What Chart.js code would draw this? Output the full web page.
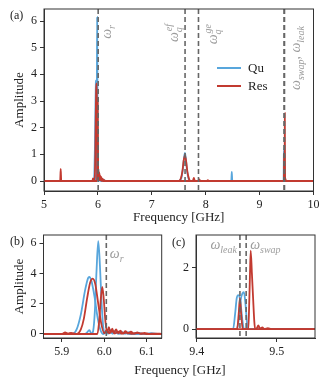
<!DOCTYPE html>
<html>
<head>
<meta charset="utf-8">
<script src="https://cdn.jsdelivr.net/npm/chart.js@4.4.0/dist/chart.umd.min.js"></script>
<style>
  body { margin: 0; background: #fff; width: 330px; height: 386px; position: relative; overflow: hidden; font-family: "Liberation Serif", serif; color: #222; }
  .box { position: absolute; }
  .tag { position: absolute; font-size: 12px; line-height: 14px; }
  .xlabel { position: absolute; left: 80px; width: 200px; top: 362px; text-align: center; font-size: 13px; line-height: 16px; }
</style>
</head>
<body>
<div class="box" style="left:0;top:0;width:330px;height:225px"><canvas id="chartA"></canvas></div>
<div class="box" style="left:0;top:225px;width:170px;height:140px"><canvas id="chartB"></canvas></div>
<div class="box" style="left:170px;top:225px;width:160px;height:140px"><canvas id="chartC"></canvas></div>
<div class="tag" style="left:10px;top:8px">(a)</div>
<div class="tag" style="left:10px;top:234px">(b)</div>
<div class="tag" style="left:172px;top:235px">(c)</div>
<div class="xlabel">Frequency [GHz]</div>
<script>
// spectra (two qubit traces, two resonator traces)
const quFreq1 = [5.00, 5.925, 5.935, 5.945, 5.955, 5.962, 5.965, 5.970, 5.977, 5.985, 5.992, 5.998,
  6.004, 6.009, 6.014, 6.020, 6.027, 6.035, 6.045, 6.060,
  7.50, 7.55, 7.58, 7.60, 7.615, 7.63, 7.65, 7.68, 7.72,
  9.4455, 9.448, 9.450, 9.452, 9.4545, 9.457, 9.459, 10.0];
const quAmp1 = [0, 0, 0.3, 1.3, 2.9, 3.7, 3.77, 3.5, 2.5, 1.0, 0.2, 0,
  0.15, 0.02, 0.12, 0.02, 0.1, 0.01, 0.07, 0,
  0, 0.12, 0.5, 0.9, 1.05, 0.85, 0.45, 0.1, 0,
  0, 0.5, 1.0, 1.1, 0.9, 0.3, 0, 0];

const quFreq2 = [5.00, 5.950, 5.958, 5.965, 5.970, 5.974, 5.978, 5.982, 5.986, 5.990, 5.994, 5.998,
  6.002, 6.006, 6.010, 6.015, 6.020, 6.026, 6.032, 6.040, 6.048, 6.058, 6.068, 6.080, 6.095, 6.110, 6.130,
  8.475, 8.484, 8.493,
  9.450, 9.4525, 9.455, 9.457, 9.459, 9.461, 9.4632, 9.4645, 10.0];
const quAmp2 = [0, 0, 0.05, 0.25, 0.02, 0.2, 1.5, 4.2, 6.14, 4.5, 2.0, 0.4,
  0.05, 0.3, 0.05, 0.25, 0.04, 0.2, 0.03, 0.15, 0.02, 0.12, 0.02, 0.08, 0, 0.05, 0,
  0, 0.34, 0,
  0, 0.3, 0.95, 1.15, 1.2, 0.8, 0.1, 0, 0];

const resFreq1 = [5.00, 5.30, 5.31, 5.32, 5.90, 5.908, 5.915, 5.922, 5.935, 5.945, 5.952, 5.960, 5.967,
  5.973, 5.979, 5.986, 5.993, 6.000, 6.006, 6.012, 6.018, 6.025, 6.033, 6.042, 6.052, 6.065, 6.080, 6.100,
  7.50, 7.54, 7.57, 7.59, 7.615, 7.64, 7.66, 7.69, 7.71, 7.76, 7.78, 7.80, 7.86, 7.88, 7.90, 8.02, 8.04, 8.06,
  9.4505, 9.4525, 9.454, 9.4555, 9.4575, 10.0];
const resAmp1 = [0, 0, 0.45, 0, 0, 0.1, 0.03, 0.08, 0, 0.3, 1.0, 2.4, 3.4,
  3.66, 3.3, 2.0, 0.7, 0.05, 0.25, 0.05, 0.2, 0.03, 0.15, 0.02, 0.1, 0.01, 0.06, 0,
  0, 0.1, 0.4, 0.75, 0.97, 0.7, 0.35, 0.08, 0, 0, 0.12, 0, 0, 0.06, 0, 0, 0.03, 0,
  0, 0.5, 1.0, 0.5, 0, 0];

const resFreq2 = [5.00, 5.984, 5.988, 5.992, 5.9955, 5.999, 6.003, 6.007, 6.011, 6.015, 6.019, 6.023,
  6.028, 6.033, 6.038, 6.044, 6.050, 6.056, 6.063, 6.070, 6.078, 6.086, 6.095, 6.105, 6.120, 6.140,
  9.4645, 9.4655, 9.4665, 9.4675, 9.469, 9.4705, 9.472, 9.473, 9.4755, 9.477, 9.479, 9.482, 9.485,
  9.489, 9.493, 10.0];
const resAmp2 = [0, 0, 0.8, 2.3, 3.11, 2.3, 0.8, 0.1, 0.45, 0.1, 0.35, 0.08,
  0.3, 0.05, 0.22, 0.04, 0.18, 0.03, 0.15, 0.02, 0.1, 0.01, 0.07, 0, 0.03, 0,
  0, 0.7, 1.7, 2.54, 1.8, 1.0, 0.25, 0, 0.04, 0.12, 0.02, 0.05, 0,
  0.03, 0, 0];

const seriesNames = ['Qu', 'Res'];
const quColor = '#58a6dc';
const resColor = '#c23a30';

// marker frequencies (dashed lines)
const omegaR = 6.005;
const omegaEF = 7.617;
const omegaGE = 7.866;
const omegaLeak = 9.454;
const omegaSwap = 9.4618;

// ticks
const ticksAx = [5, 6, 7, 8, 9, 10];
const ticksAy = [0, 1, 2, 3, 4, 5, 6];
const ticksBx = [5.9, 6.0, 6.1];
const ticksBy = [0, 2, 4, 6];
const ticksCx = [9.4, 9.5];
const ticksCy = [0, 2];

Chart.defaults.font.family = '"Liberation Serif", serif';
Chart.defaults.font.size = 12;
Chart.defaults.color = '#222';

// chart.js paints dataset 0 last, so the resonator traces go first to sit on top
const traces = [
  [seriesNames[1], resColor, resFreq1, resAmp1],
  [seriesNames[1], resColor, resFreq2, resAmp2],
  [seriesNames[0], quColor, quFreq1, quAmp1],
  [seriesNames[0], quColor, quFreq2, quAmp2]
];

function makeDatasets() {
  return traces.map(t => ({
    label: t[0],
    data: t[2].map((f, i) => ({x: f, y: t[3][i]})),
    borderColor: t[1],
    borderWidth: 1.8,
    pointRadius: 0,
    fill: false,
    cubicInterpolationMode: 'monotone'
  }));
}

const BIG = 'italic 14px "Liberation Serif", serif';
const SMALL = 'italic 10px "Liberation Serif", serif';

function tokensWidth(ctx, tokens) {
  let w = 0;
  tokens.forEach(tk => {
    ctx.font = BIG; w += ctx.measureText(tk.t).width;
    ctx.font = SMALL;
    w += Math.max(tk.s ? ctx.measureText(tk.s).width : 0, tk.p ? ctx.measureText(tk.p).width : 0);
  });
  return w;
}

function drawTokens(ctx, tokens, x, y, rotate, align) {
  ctx.save();
  ctx.translate(x, y);
  if (rotate) ctx.rotate(-Math.PI / 2);
  ctx.fillStyle = '#9c9c9c';
  ctx.textBaseline = 'alphabetic';
  ctx.textAlign = 'left';
  let cx = align === 'right' ? -tokensWidth(ctx, tokens) : 0;
  tokens.forEach(tk => {
    ctx.font = BIG; ctx.fillText(tk.t, cx, 0); cx += ctx.measureText(tk.t).width;
    ctx.font = SMALL;
    let sw = 0;
    if (tk.s) { ctx.fillText(tk.s, cx, 3.5); sw = ctx.measureText(tk.s).width; }
    if (tk.p) { ctx.fillText(tk.p, cx + 1, -6); sw = Math.max(sw, ctx.measureText(tk.p).width + 1); }
    cx += sw;
  });
  ctx.restore();
}

const marks = {
  id: 'marks',
  afterDatasetsDraw(chart, args, opts) {
    const {ctx, chartArea: a, scales: {x}} = chart;
    ctx.save();
    ctx.beginPath();
    ctx.rect(a.left, a.top, a.right - a.left, a.bottom - a.top);
    ctx.clip();
    ctx.strokeStyle = '#666';
    ctx.lineWidth = 1.6;
    ctx.setLineDash([5, 3]);
    (opts.lines || []).forEach(v => {
      const px = x.getPixelForValue(v);
      ctx.beginPath(); ctx.moveTo(px, a.top); ctx.lineTo(px, a.bottom); ctx.stroke();
    });
    ctx.restore();
    (opts.labels || []).forEach(l => {
      drawTokens(ctx, l.tokens, x.getPixelForValue(l.at) + l.dx, a.top + l.dy, l.rotate, l.align);
    });
    if (opts.legend) {
      ctx.save();
      [[quColor, seriesNames[0]], [resColor, seriesNames[1]]].forEach((e, i) => {
        const y = a.top + 59 + i * 18;
        ctx.strokeStyle = e[0]; ctx.lineWidth = 2;
        ctx.beginPath(); ctx.moveTo(a.left + 173, y); ctx.lineTo(a.left + 197, y); ctx.stroke();
        ctx.fillStyle = '#222'; ctx.font = '13px "Liberation Serif", serif';
        ctx.textBaseline = 'middle';
        ctx.fillText(e[1], a.left + 204, y + 1);
      });
      ctx.restore();
    }
    ctx.save();
    ctx.strokeStyle = '#333'; ctx.lineWidth = 1;
    ctx.strokeRect(a.left, a.top, a.right - a.left, a.bottom - a.top);
    ctx.restore();
  }
};

function makeScales(c) {
  return {
    x: {
      type: 'linear', min: c.xMin, max: c.xMax,
      afterBuildTicks: s => { s.ticks = c.xTicks.map(v => ({value: v})); },
      afterFit: s => { s.height = c.xHeight; s.paddingLeft = 0; s.paddingRight = 0; },
      ticks: { autoSkip: false, maxRotation: 0, padding: 3, color: '#222', callback: v => v.toFixed(c.xDigits) },
      grid: { drawOnChartArea: false, drawTicks: true, tickLength: 4, color: '#333' },
      border: { color: '#333' },
      title: c.xTitle ? { display: true, text: c.xTitle, font: {size: 13}, color: '#222', padding: {top: 0, bottom: 0} } : { display: false }
    },
    y: {
      type: 'linear', min: c.yMin, max: c.yMax,
      afterBuildTicks: s => { s.ticks = c.yTicks.map(v => ({value: v})); },
      afterFit: s => { s.width = c.yWidth; s.paddingTop = 0; s.paddingBottom = 0; },
      ticks: { autoSkip: false, padding: 3, color: '#222', callback: v => String(v) },
      grid: { drawOnChartArea: false, drawTicks: true, tickLength: 4, color: '#333' },
      border: { color: '#333' },
      title: c.yTitle ? { display: true, text: c.yTitle, font: {size: 13}, color: '#222', padding: {top: 12, bottom: 0} } : { display: false }
    }
  };
}

function makeChart(id, scaleCfg, pad, markOpts) {
  return new Chart(document.getElementById(id), {
    type: 'line',
    data: { datasets: makeDatasets() },
    options: {
      responsive: true,
      maintainAspectRatio: false,
      animation: false,
      layout: { padding: pad },
      scales: makeScales(scaleCfg),
      plugins: { legend: { display: false }, tooltip: { enabled: false }, marks: markOpts }
    },
    plugins: [marks]
  });
}

makeChart('chartA',
  { xMin: 5, xMax: 10, xTicks: ticksAx, xDigits: 0, xHeight: 34, xTitle: 'Frequency [GHz]',
    yMin: -0.375, yMax: 6.45, yTicks: ticksAy, yWidth: 44, yTitle: 'Amplitude' },
  { left: 0, right: 16.5, top: 9, bottom: 0 },
  {
    lines: [omegaR, omegaEF, omegaGE, omegaLeak, omegaSwap],
    legend: true,
    labels: [
      { at: omegaR, dx: 13, dy: 16, rotate: true, align: 'right', tokens: [{t: 'ω', s: 'r'}] },
      { at: omegaEF, dx: -7, dy: 16, rotate: true, align: 'right', tokens: [{t: 'ω', s: 'q', p: 'ef'}] },
      { at: omegaGE, dx: 19, dy: 16, rotate: true, align: 'right', tokens: [{t: 'ω', s: 'q', p: 'ge'}] },
      { at: omegaLeak, dx: 16, dy: 17, rotate: true, align: 'right', tokens: [{t: 'ω', s: 'swap'}, {t: ', '}, {t: 'ω', s: 'leak'}] }
    ]
  });

makeChart('chartB',
  { xMin: 5.857, xMax: 6.1355, xTicks: ticksBx, xDigits: 1, xHeight: 27,
    yMin: -0.265, yMax: 6.55, yTicks: ticksBy, yWidth: 43.5, yTitle: 'Amplitude' },
  { left: 0, right: 8.3, top: 10, bottom: 0 },
  {
    lines: [omegaR],
    labels: [ { at: omegaR, dx: 3.5, dy: 23, rotate: false, align: 'left', tokens: [{t: 'ω', s: 'r'}] } ]
  });

makeChart('chartC',
  { xMin: 9.399, xMax: 9.548, xTicks: ticksCx, xDigits: 1, xHeight: 27,
    yMin: -0.29, yMax: 3.05, yTicks: ticksCy, yWidth: 26 },
  { left: 0, right: 15, top: 10, bottom: 0 },
  {
    lines: [omegaLeak, omegaSwap],
    labels: [
      { at: omegaLeak, dx: -3, dy: 14, rotate: false, align: 'right', tokens: [{t: 'ω', s: 'leak'}] },
      { at: omegaSwap, dx: 4, dy: 14, rotate: false, align: 'left', tokens: [{t: 'ω', s: 'swap'}] }
    ]
  });
</script>
</body>
</html>
